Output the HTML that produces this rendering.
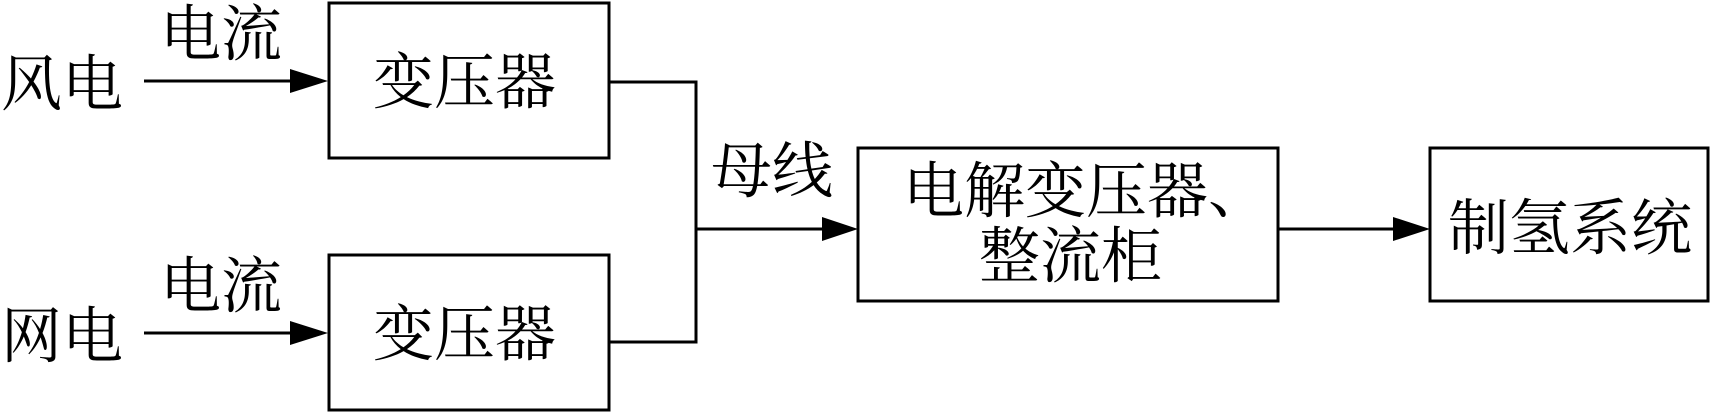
<!DOCTYPE html>
<html><head><meta charset="utf-8"><style>
html,body{margin:0;padding:0;background:#fff}
svg{display:block}
text{font-family:"Liberation Serif","Noto Serif CJK SC",serif;font-size:61px;fill:#000}
</style></head><body>
<svg width="1711" height="413" viewBox="0 0 1711 413" xmlns="http://www.w3.org/2000/svg">
<g fill="none" stroke="#000" stroke-width="3">
<rect x="329" y="3" width="280" height="155"/>
<rect x="329" y="255" width="280" height="155"/>
<rect x="858" y="148" width="420" height="153"/>
<rect x="1430" y="148" width="278" height="153"/>
<line x1="144" y1="81" x2="292" y2="81"/>
<line x1="144" y1="333" x2="292" y2="333"/>
<polyline points="609,82 696,82 696,342 609,342"/>
<line x1="696" y1="229" x2="826" y2="229"/>
<line x1="1278" y1="229" x2="1396" y2="229"/>
</g>
<g fill="#000">
<polygon points="290,69 328,81 290,93"/>
<polygon points="290,321 328,333 290,345"/>
<polygon points="822,217 858,229 822,241"/>
<polygon points="1393,217 1430,229 1393,241"/>
</g>
<text x="1" y="105">风电</text>
<text x="1" y="357">网电</text>
<text x="160" y="55">电流</text>
<text x="160" y="307">电流</text>
<text x="373" y="103">变压器</text>
<text x="373" y="355">变压器</text>
<text x="711" y="192">母线</text>
<text x="903" y="212">电解变压器、</text>
<text x="979" y="277">整流柜</text>
<text x="1448" y="249">制氢系统</text>
</svg>
</body></html>
